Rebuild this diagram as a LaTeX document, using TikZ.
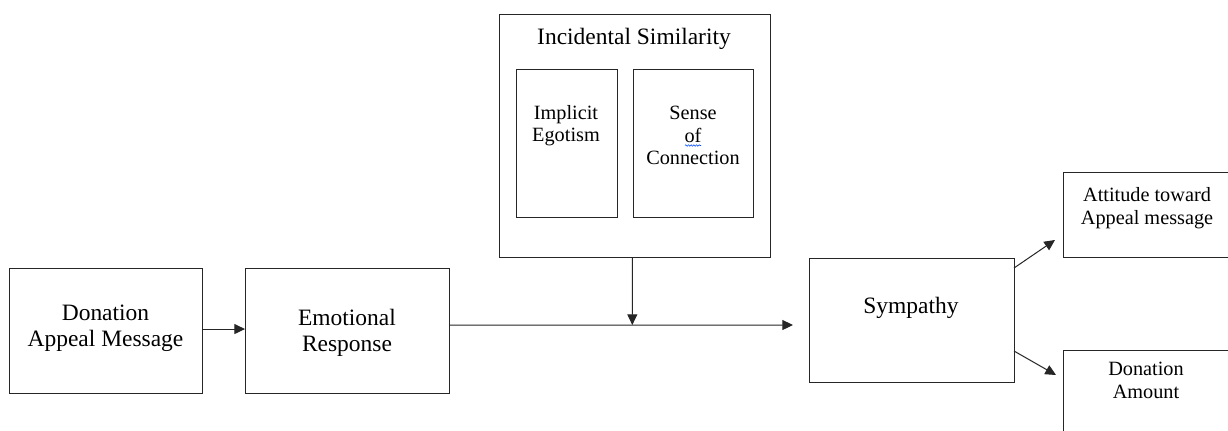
\documentclass[tikz,border=0pt]{standalone}
\usepackage{fontspec}
\setmainfont{Liberation Serif}
\usetikzlibrary{arrows.meta,decorations.pathmorphing}
\tikzset{
  box/.style={draw=black!85,line width=0.75pt,inner sep=0pt,outer sep=0pt,fill=none},
  wh/.style n args={2}{minimum width={#1*0.75pt},minimum height={#2*0.75pt}},
  big/.style={font=\fontsize{17.6}{19.5}\selectfont,align=center,inner sep=0pt},
  small/.style={font=\fontsize{15.2}{17}\selectfont,align=center,inner sep=0pt},
  arr/.style={draw=black!85,line width=0.75pt,-{Triangle[length=8pt,width=7.5pt]}}
}
\begin{document}
\begin{tikzpicture}[x=0.75pt,y=-0.75pt]
\clip (0,0) rectangle (1228,430);
\fill[white] (0,0) rectangle (1228,430);
% boxes
\node[box,wh={193}{125}] (don) at (105.5,330.5) {};
\node[box,wh={204}{125}] (emo) at (347,330.5) {};
\node[box,wh={205}{124}] (sym) at (911.5,320) {};
\node[box,wh={271}{243}] (inc) at (634.5,135.5) {};
\node[box,wh={101}{148}] (imp) at (566.5,143) {};
\node[box,wh={120}{148}] (sen) at (693,143) {};
\node[box,wh={168}{85}] (att) at (1147,214.5) {};
\node[box,wh={168}{90}] (amt) at (1147,395) {};
% texts
\node[big] (tdon) at (105.5,328.5) {Donation\\Appeal Message};
\node[big] (temo) at (347,333) {Emotional\\Response};
\node[big] (tsym) at (911,307.5) {Sympathy};
\node[big] (tinc) at (634,38.5) {Incidental Similarity};
\node[small] (timp) at (566,125.5) {Implicit\\Egotism};
\node[small] (tsen) at (693,135.6) {Sense\\of\\Connection};
\node[small] (tatt) at (1147,208) {Attitude toward\\Appeal message};
\node[small] (tamt) at (1146,380.5) {Donation\\Amount};
% spell-check underline under "of"
\coordinate (w1) at (685,145.5);
\coordinate (w2) at (701,145.5);
\draw[blue!70!cyan,line width=0.4pt,decorate,decoration={snake,amplitude=0.6pt,segment length=2pt}] (w1) -- (w2);
% connectors
\coordinate (j) at (632.3,325);
\draw[arr] ([yshift=1.1pt]don.east) -- ([yshift=1.1pt]emo.west);
\draw[arr] ([yshift=4.1pt]emo.east) -- ([xshift=-12pt,yshift=-3.75pt]sym.west);
\draw[arr] ([xshift=-1.6pt]inc.south) -- (j);
\draw[arr] ([yshift=-7.5pt]sym.north east) -- ([xshift=-6pt,yshift=12.75pt]att.south west);
\draw[arr] ([yshift=23.25pt]sym.south east) -- ([xshift=-5.25pt,yshift=-18.75pt]amt.north west);
\end{tikzpicture}
\end{document}
